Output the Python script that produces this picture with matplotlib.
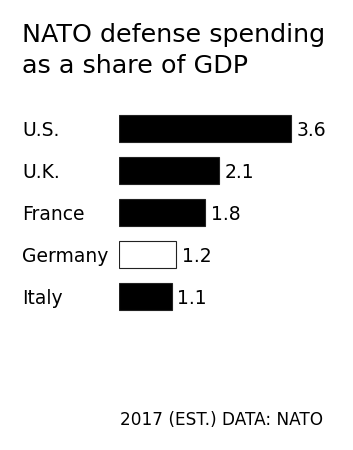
import matplotlib
matplotlib.use("Agg")
import matplotlib.pyplot as plt
import matplotlib.transforms as mtransforms

countries = ["U.S.", "U.K.", "France", "Germany", "Italy"]
values = [3.6, 2.1, 1.8, 1.2, 1.1]
value_labels = ["3.6", "2.1", "1.8", "1.2", "1.1"]
fills = ["black", "black", "black", "white", "black"]

W, H = 353, 450
DPI = 100
plt.rcParams["font.family"] = ["DejaVu Sans"]

fig = plt.figure(figsize=(W / DPI, H / DPI), dpi=DPI)
fig.patch.set_facecolor("white")

# axes placement in pixels
ax_left, ax_top, ax_w, ax_h = 119, 107.4, 210, 210.5
ax = fig.add_axes([ax_left / W, (H - ax_top - ax_h) / H, ax_w / W, ax_h / H])
px_per_unit = 47.8
ax.set_xlim(0, ax_w / px_per_unit)
ax.set_ylim(len(countries) - 0.5, -0.5)
ax.axis("off")

ypos = list(range(len(countries)))
ax.barh(ypos, values, height=0.64, color=fills, edgecolor="#222222", linewidth=0.8)

trans = mtransforms.blended_transform_factory(fig.transFigure, ax.transData)
for y, name, v, lab in zip(ypos, countries, values, value_labels):
    ax.text(22 / W, y, name, transform=trans, ha="left", va="center_baseline",
            fontsize=13.5, color="black")
    ax.annotate(lab, xy=(v, y), xytext=(4.0, 0), textcoords="offset points",
                ha="left", va="center_baseline", fontsize=13.5, color="black")

fig.text(22 / W, 1 - 42 / H, "NATO defense spending", ha="left", va="baseline",
         fontsize=18.3, color="black")
fig.text(22 / W, 1 - 73 / H, "as a share of GDP", ha="left", va="baseline",
         fontsize=18.3, color="black")
fig.text(323 / W, 1 - 425 / H, "2017 (EST.) DATA: NATO", ha="right", va="baseline",
         fontsize=12.2, color="black")

fig.savefig("out.png", dpi=DPI, facecolor="white")
